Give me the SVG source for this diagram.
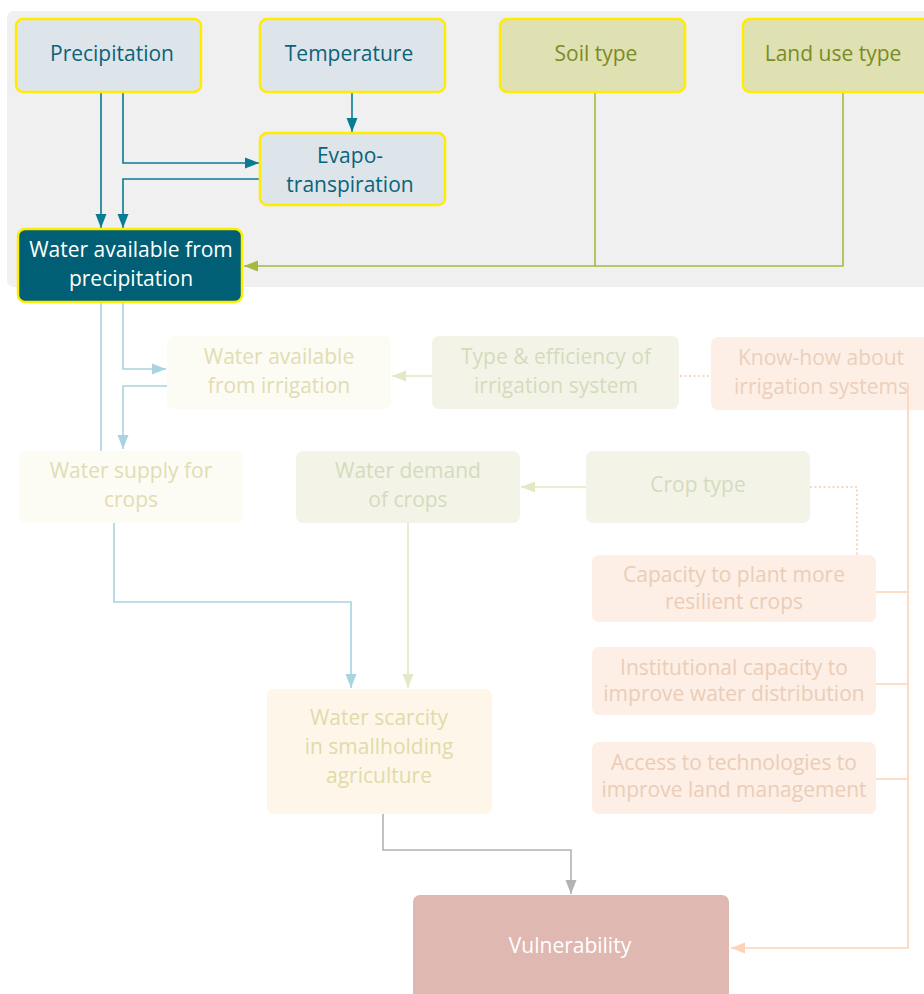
<svg xmlns="http://www.w3.org/2000/svg" width="924" height="994" viewBox="0 0 924 994">
<style>
text{font-family:"Open Sans","Noto Sans","Liberation Sans",sans-serif;font-size:21px;text-anchor:middle}
.top{fill:#dde5eb;stroke:#ffec00;stroke-width:2.5}
.topg{fill:#dfe1b3;stroke:#ffec00;stroke-width:2.5}
.tt{fill:#0b6379}
.tg{fill:#7a8c25}
.c{fill:none;stroke-width:1.6}
</style>
<defs>
<marker id="aT" markerUnits="userSpaceOnUse" markerWidth="15" markerHeight="12" refX="14" refY="6" orient="auto"><path d="M0,0.5L14,6L0,11.5z" fill="#0a7b94"/></marker>
<marker id="aG" markerUnits="userSpaceOnUse" markerWidth="15" markerHeight="12" refX="14" refY="6" orient="auto"><path d="M0,0.5L14,6L0,11.5z" fill="#a9b83c"/></marker>
<marker id="aB" markerUnits="userSpaceOnUse" markerWidth="15" markerHeight="12" refX="14" refY="6" orient="auto"><path d="M0,0.5L14,6L0,11.5z" fill="#a9d3df"/></marker>
<marker id="aL" markerUnits="userSpaceOnUse" markerWidth="15" markerHeight="12" refX="14" refY="6" orient="auto"><path d="M0,0.5L14,6L0,11.5z" fill="#e3e9c2"/></marker>
<marker id="aO" markerUnits="userSpaceOnUse" markerWidth="15" markerHeight="12" refX="14" refY="6" orient="auto"><path d="M0,0.5L14,6L0,11.5z" fill="#fdd3b5"/></marker>
<marker id="aY" markerUnits="userSpaceOnUse" markerWidth="15" markerHeight="12" refX="14" refY="6" orient="auto"><path d="M0,0.5L14,6L0,11.5z" fill="#b3b3b3"/></marker>
</defs>
<rect x="7" y="11" width="930" height="276" rx="7" fill="#f0f0f0"/>
<g id="connectors">
<path class="c" stroke="#0a7b94" d="M101,93V228" marker-end="url(#aT)"/>
<path class="c" stroke="#0a7b94" d="M123,93V163H259" marker-end="url(#aT)"/>
<path class="c" stroke="#0a7b94" d="M260,179H123V228" marker-end="url(#aT)"/>
<path class="c" stroke="#0a7b94" d="M352,93V132" marker-end="url(#aT)"/>
<path class="c" stroke="#a9b83c" d="M595,93V266"/>
<path class="c" stroke="#a9b83c" d="M843,93V266H244" marker-end="url(#aG)"/>
<path class="c" stroke="#a9d3df" d="M101,303V451"/>
<path class="c" stroke="#a9d3df" d="M123,303V369H166" marker-end="url(#aB)"/>
<path class="c" stroke="#a9d3df" d="M167,386H123V449" marker-end="url(#aB)"/>
<path class="c" stroke="#a9d3df" d="M114,523V602H351V688" marker-end="url(#aB)"/>
<path class="c" stroke="#e3e9c2" d="M432,376H392" marker-end="url(#aL)"/>
<path class="c" stroke="#e3e9c2" d="M586,487H521" marker-end="url(#aL)"/>
<path class="c" stroke="#e3e9c2" d="M408,523V688" marker-end="url(#aL)"/>
<path class="c" stroke="#fbcaa9" stroke-width="2" stroke-dasharray="2,2.5" d="M680,376H711"/>
<path class="c" stroke="#fbcaa9" stroke-width="2" stroke-dasharray="2,2.5" d="M810,487H857V555"/>
<path class="c" stroke="#b3b3b3" d="M383,814V850H571V894" marker-end="url(#aY)"/>
</g>
<g id="n-precip"><rect class="top" x="16" y="19" width="185" height="73" rx="7"/><text class="tt" x="112" y="61">Precipitation</text></g>
<g id="n-temp"><rect class="top" x="260" y="19" width="185" height="73" rx="7"/><text class="tt" x="349" y="61">Temperature</text></g>
<g id="n-evapo"><rect class="top" x="260" y="133" width="185" height="72" rx="7"/><text class="tt" x="350" y="163">Evapo-</text><text class="tt" x="350" y="192">transpiration</text></g>
<g id="n-soil"><rect class="topg" x="500" y="19" width="185" height="73" rx="7"/><text class="tg" x="596" y="61">Soil type</text></g>
<g id="n-land"><rect class="topg" x="743" y="19" width="190" height="73" rx="7"/><text class="tg" x="833" y="61">Land use type</text></g>
<g id="n-wap"><rect x="18" y="229" width="224" height="73" rx="7" fill="#005f74" stroke="#ffec00" stroke-width="2.5"/><text x="131" y="257" fill="#fff">Water available from</text><text x="131" y="286" fill="#fff">precipitation</text></g>
<g id="n-wai"><rect x="167" y="336" width="224" height="73" rx="7" fill="#fcfbf4"/><text x="279" y="364" fill="#e3ddb2">Water available</text><text x="279" y="393" fill="#e3ddb2">from irrigation</text></g>
<g id="n-type"><rect x="432" y="336" width="247" height="73" rx="7" fill="#f3f4e7"/><text x="556" y="364" fill="#d5dbbd">Type &amp; efficiency of</text><text x="556" y="393" fill="#d5dbbd">irrigation system</text></g>
<g id="n-know"><rect x="711" y="337" width="224" height="73" rx="7" fill="#fdefe5"/><text x="821" y="365" fill="#ebcfbc">Know-how about</text><text x="821" y="394" fill="#ebcfbc">irrigation systems</text></g>
<g id="n-supply"><rect x="19" y="451" width="224" height="72" rx="7" fill="#fcfbf4"/><text x="131" y="478" fill="#e3ddb2">Water supply for</text><text x="131" y="507" fill="#e3ddb2">crops</text></g>
<g id="n-demand"><rect x="296" y="451" width="224" height="72" rx="7" fill="#f3f4e7"/><text x="408" y="478" fill="#d5dbbd">Water demand</text><text x="408" y="507" fill="#d5dbbd">of crops</text></g>
<g id="n-crop"><rect x="586" y="451" width="224" height="72" rx="7" fill="#f3f4e7"/><text x="698" y="492" fill="#d5dbbd">Crop type</text></g>
<g id="n-cap"><rect x="592" y="555" width="284" height="67" rx="7" fill="#fdefe5"/><text x="734" y="582" fill="#ebcdb7">Capacity to plant more</text><text x="734" y="609" fill="#ebcdb7">resilient crops</text></g>
<g id="n-inst"><rect x="592" y="647" width="284" height="68" rx="7" fill="#fdefe5"/><text x="734" y="675" fill="#ebcdb7">Institutional capacity to</text><text x="734" y="701" fill="#ebcdb7">improve water distribution</text></g>
<g id="n-access"><rect x="592" y="742" width="284" height="72" rx="7" fill="#fdefe5"/><text x="734" y="770" fill="#ebcdb7">Access to technologies to</text><text x="734" y="797" fill="#ebcdb7">improve land management</text></g>
<g id="n-scarcity"><rect x="267" y="689" width="225" height="125" rx="7" fill="#fef7e9"/><text x="379" y="725" fill="#e0dbab">Water scarcity</text><text x="379" y="754" fill="#e0dbab">in smallholding</text><text x="379" y="783" fill="#e0dbab">agriculture</text></g>
<g id="n-vuln"><rect x="413" y="895" width="316" height="110" rx="7" fill="#dfb8b1"/><text x="570" y="953" fill="#fff">Vulnerability</text></g>
<g id="connectors-over">
<path class="c" stroke="#fdd3b5" d="M908,383V948H731" marker-end="url(#aO)"/>
<path class="c" stroke="#fdd3b5" d="M876,592H908M876,684H908M876,779H908"/>
</g>
</svg>
